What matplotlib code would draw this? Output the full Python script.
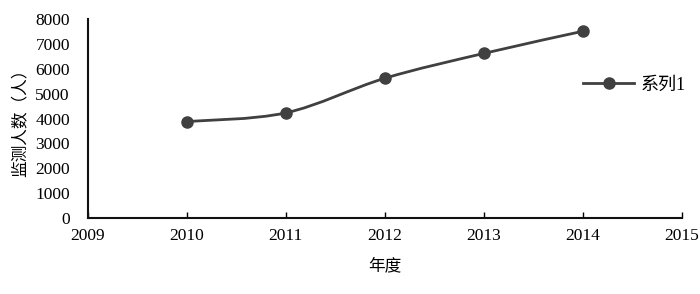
import numpy as np
import matplotlib
matplotlib.use("Agg")
import matplotlib.pyplot as plt
from matplotlib.path import Path
from matplotlib.patches import PathPatch

plt.rcParams["font.family"] = ["Liberation Serif", "Noto Sans CJK SC", "DejaVu Sans"]

# ---------------------------------------------------------------------------
# Data
# ---------------------------------------------------------------------------
years = [2010, 2011, 2012, 2013, 2014]
counts = [3880, 4230, 5620, 6620, 7510]
series_name = "系列1"
x_label = "年度"
y_label = "监测人数（人）"

LINE_COLOR = "#404040"

fig = plt.figure(figsize=(7.0, 2.94), dpi=100)
ax = fig.add_axes([0.1257, 0.2585, 0.848, 0.6765])

# Excel-style smoothed line: cubic Bezier segments through the data points
x = np.array(years, dtype=float)
y = np.array(counts, dtype=float)
verts = [(x[0], y[0])]
codes = [Path.MOVETO]
t = 1.0 / 6.0
for i in range(len(x) - 1):
    p0 = (x[i - 1], y[i - 1]) if i > 0 else (x[i], y[i])
    p1 = (x[i], y[i])
    p2 = (x[i + 1], y[i + 1])
    p3 = (x[i + 2], y[i + 2]) if i + 2 < len(x) else (x[i + 1], y[i + 1])
    c1 = (p1[0] + (p2[0] - p0[0]) * t, p1[1] + (p2[1] - p0[1]) * t)
    c2 = (p2[0] - (p3[0] - p1[0]) * t, p2[1] - (p3[1] - p1[1]) * t)
    verts += [c1, c2, p2]
    codes += [Path.CURVE4] * 3
ax.add_patch(PathPatch(Path(verts, codes), facecolor="none",
                       edgecolor=LINE_COLOR, lw=2.0, zorder=2))
ax.plot(years, counts, linestyle="none", marker="o", markersize=8,
        color=LINE_COLOR, zorder=3)

ax.set_xlim(2009, 2015)
ax.set_ylim(0, 8000)
ax.set_xticks(range(2009, 2016))
ax.set_yticks(range(0, 8001, 1000))

for side in ["top", "right"]:
    ax.spines[side].set_visible(False)
for side in ["left", "bottom"]:
    ax.spines[side].set_linewidth(1.5)
    ax.spines[side].set_color("#111111")

ax.tick_params(axis="x", direction="in", length=4, width=1, pad=7,
               labelsize=12.5)
ax.tick_params(axis="y", length=0, pad=13, labelsize=12.5)

ax.set_xlabel(x_label, fontsize=12, labelpad=10, family=["Noto Sans CJK SC"])
ax.set_ylabel(y_label, fontsize=12, labelpad=5, family=["Noto Sans CJK SC"])

# legend to the right of the plot
handle = plt.Line2D([], [], color=LINE_COLOR, lw=2.0, marker="o",
                    markersize=8)
fig.legend([handle], [series_name], loc="center left",
           bbox_to_anchor=(0.81, 0.71), frameon=False, handlelength=2.8,
           prop={"family": ["Liberation Serif", "Noto Sans CJK SC"], "size": 13},
           handletextpad=0.4)

fig.savefig("out.png", dpi=100)
